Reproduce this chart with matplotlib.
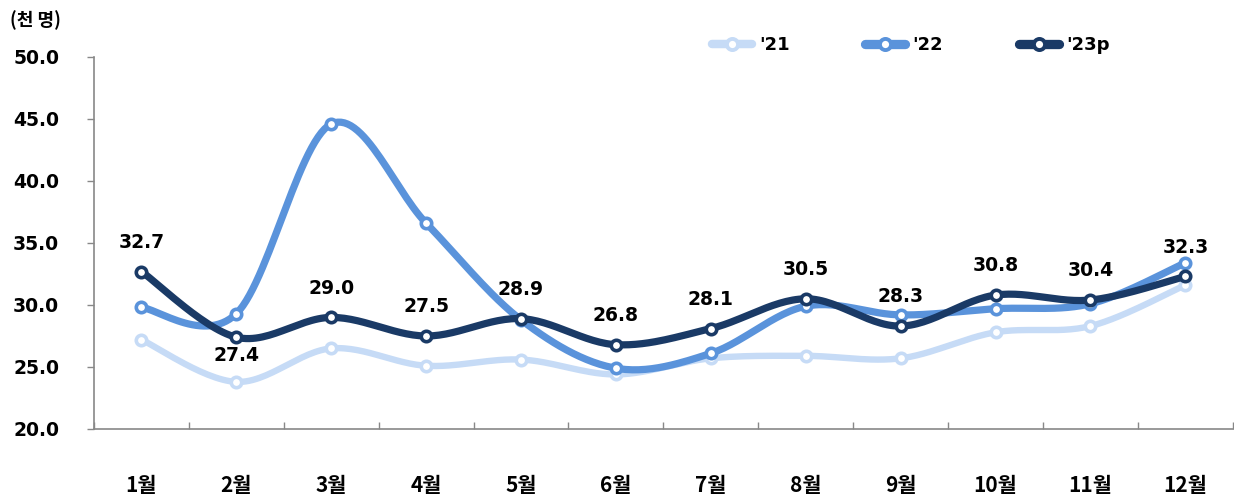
import numpy as np
import matplotlib
matplotlib.use("Agg")
import matplotlib.pyplot as plt

months = ["1월", "2월", "3월", "4월", "5월", "6월", "7월", "8월", "9월", "10월", "11월", "12월"]
y21 = [27.2, 23.8, 26.5, 25.1, 25.6, 24.4, 25.7, 25.9, 25.7, 27.8, 28.3, 31.6]
y22 = [29.8, 29.3, 44.6, 36.6, 28.8, 24.9, 26.1, 29.9, 29.2, 29.7, 30.1, 33.4]
y23 = [32.7, 27.4, 29.0, 27.5, 28.9, 26.8, 28.1, 30.5, 28.3, 30.8, 30.4, 32.3]
series_names = ["'21", "'22", "'23p"]
yticks = [20.0, 25.0, 30.0, 35.0, 40.0, 45.0, 50.0]

colors = ["#C6DBF6", "#5A93DB", "#1A3A66"]
widths = [4.6, 5.2, 5.2]

plt.rcParams['font.family'] = ['DejaVu Sans', 'Noto Sans CJK KR']


def smooth(x, y, n=30):
    x = np.asarray(x, float)
    y = np.asarray(y, float)
    px = np.concatenate([[x[0]], x, [x[-1]]])
    py = np.concatenate([[y[0]], y, [y[-1]]])
    xs, ys = [], []
    for i in range(1, len(px) - 2):
        p0x, p1x, p2x, p3x = px[i - 1], px[i], px[i + 1], px[i + 2]
        p0y, p1y, p2y, p3y = py[i - 1], py[i], py[i + 1], py[i + 2]
        c1x = p1x + (p2x - p0x) / 6
        c1y = p1y + (p2y - p0y) / 6
        c2x = p2x - (p3x - p1x) / 6
        c2y = p2y - (p3y - p1y) / 6
        t = np.linspace(0, 1, n)
        bx = (1 - t) ** 3 * p1x + 3 * (1 - t) ** 2 * t * c1x + 3 * (1 - t) * t ** 2 * c2x + t ** 3 * p2x
        by = (1 - t) ** 3 * p1y + 3 * (1 - t) ** 2 * t * c1y + 3 * (1 - t) * t ** 2 * c2y + t ** 3 * p2y
        xs.append(bx)
        ys.append(by)
    return np.concatenate(xs), np.concatenate(ys)


fig = plt.figure(figsize=(12.34, 4.96), dpi=100)
ax = fig.add_axes([94 / 1234, 1 - 429 / 496, 1 - 94 / 1234 - 0.001, (429 - 57) / 496])

x = np.arange(len(months))
for k, (ys, name) in enumerate(zip([y21, y22, y23], series_names)):
    sx, sy = smooth(x, ys)
    ax.plot(sx, sy, color=colors[k], lw=widths[k], solid_capstyle='round', zorder=2 + k)
    ax.plot(x, ys, linestyle='none', marker='o', markersize=7.5, markerfacecolor='white',
            markeredgecolor=colors[k], markeredgewidth=2.6, zorder=2.5 + k)
    ax.plot([], [], color=colors[k], lw=widths[k] + 1.5, marker='o', markersize=8,
            markerfacecolor='white', markeredgecolor=colors[k], markeredgewidth=2.8,
            solid_capstyle='round', label=name)

for i, v in enumerate(y23):
    off = -13 if i == 1 else 21
    ax.annotate(f"{v:.1f}", (x[i], v), xytext=(0, off), textcoords='offset points',
                ha='center', va='center', fontsize=13.5, fontweight='bold', color='black', zorder=10)

ax.set_xlim(-0.5, len(months) - 0.5)
ax.set_ylim(20, 50)
ax.set_yticks(yticks)
ax.set_yticklabels([f"{t:.1f}" for t in yticks], fontsize=13.5, fontweight='bold')
ax.tick_params(axis='y', direction='out', length=5, color='#888888', width=1, pad=20)

ax.set_xticks(np.arange(-0.5, len(months), 1.0), minor=False)
ax.set_xticklabels([])
ax.set_xticks(x, minor=True)
ax.set_xticklabels(months, minor=True, fontsize=15, fontweight='bold',
                   family=['Noto Sans CJK KR', 'DejaVu Sans'])
ax.tick_params(axis='x', which='major', direction='in', length=5, color='#888888', width=1)
ax.tick_params(axis='x', which='minor', length=0, pad=33)

for s in ['top', 'right']:
    ax.spines[s].set_visible(False)
for s in ['left', 'bottom']:
    ax.spines[s].set_color('#888888')
    ax.spines[s].set_linewidth(1.2)

fig.text(10 / 1234, 1 - 20 / 496, "(천 명)", fontsize=13, fontweight='bold', ha='left', va='center',
         family=['Noto Sans CJK KR', 'DejaVu Sans'])

leg = ax.legend(loc='center left', bbox_to_anchor=(712 / 1234, 1 - 45 / 496),
                bbox_transform=fig.transFigure, ncol=3, frameon=False,
                handlelength=2.2, handletextpad=0.4, columnspacing=4.2,
                prop={'size': 13, 'weight': 'bold'}, borderpad=0, borderaxespad=0)

fig.savefig("out.png", dpi=100)
